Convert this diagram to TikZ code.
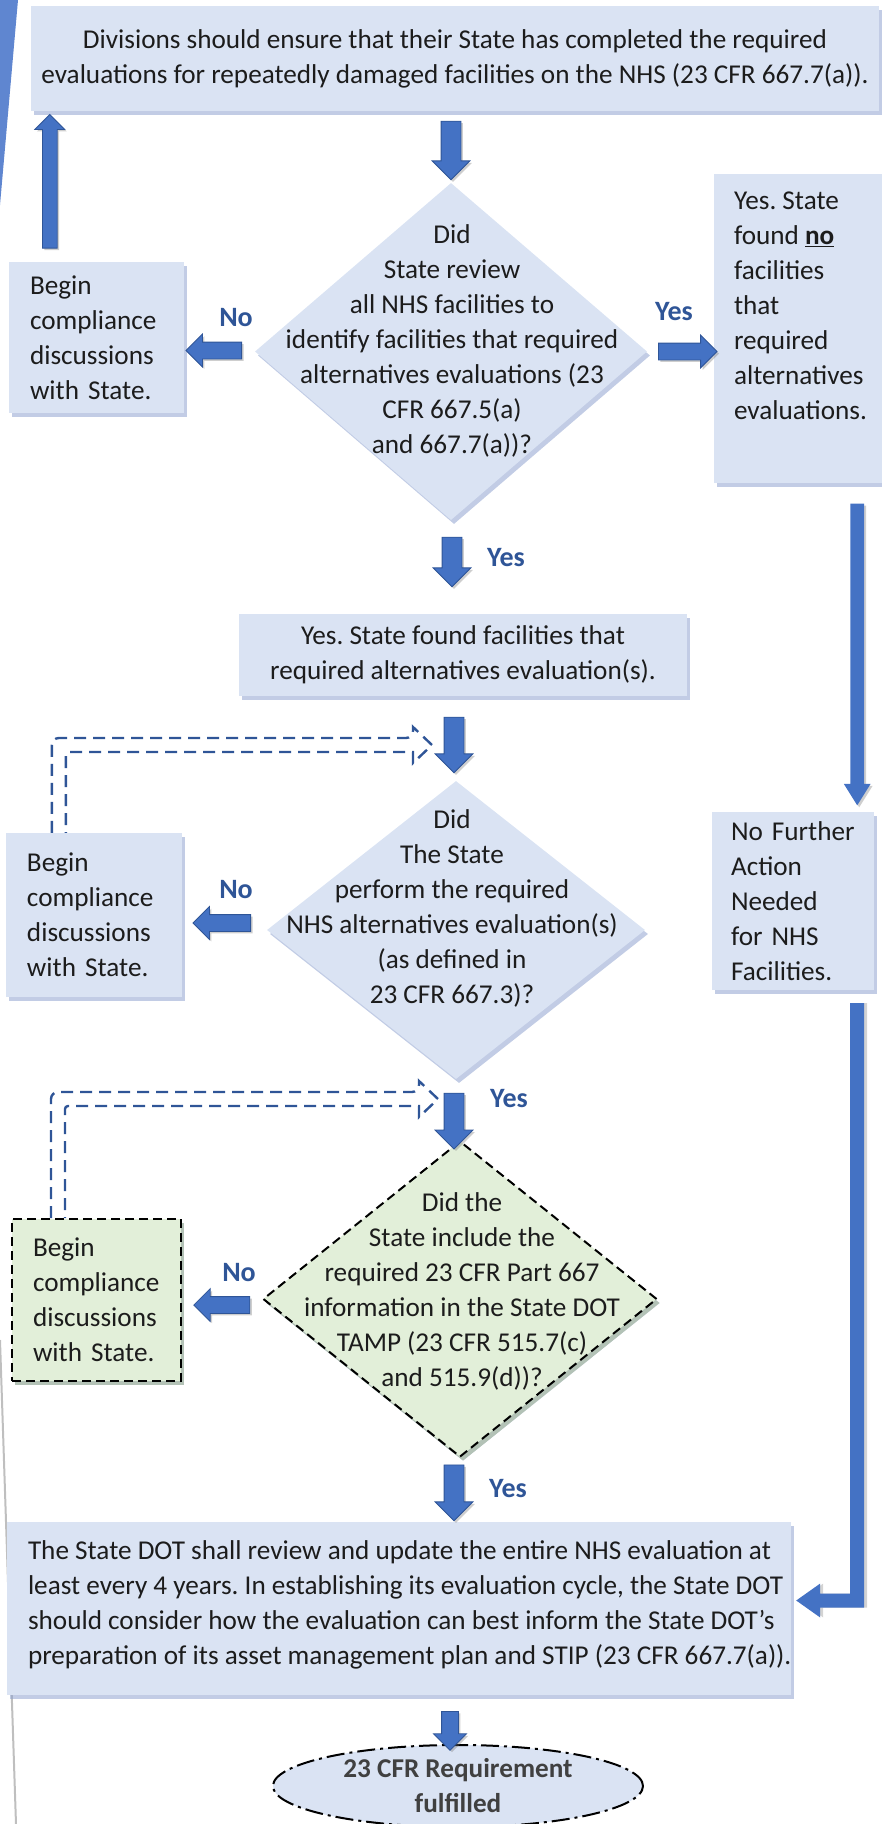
\documentclass[tikz,border=0pt]{standalone}
\usepackage{fontspec}
\setmainfont{Carlito}
\usepackage{tikz}
\usetikzlibrary{calc}
\usetikzlibrary{shapes.geometric}
\usetikzlibrary{shapes.arrows}
\usetikzlibrary{shadows}
\frenchspacing
\definecolor{boxblue}{HTML}{DAE3F3}
\definecolor{boxgreen}{HTML}{E2EFD9}
\definecolor{arrowblue}{HTML}{4472C4}
\definecolor{arrowedge}{HTML}{2F5597}
\definecolor{labelblue}{HTML}{2F5597}
\definecolor{shadowblue}{HTML}{8FA3CF}
\definecolor{shadowgreen}{HTML}{A9BC98}
\definecolor{stripeblue}{HTML}{5F86D0}
\definecolor{inkgrey}{HTML}{1C1C1C}
\newcommand{\bodyfont}{\fontsize{27.2}{35}\selectfont}
\newcommand{\flowarrow}[4][]{\path let \p1=(#2), \p2=(#3), \n1={veclen(\x2-\x1,\y2-\y1)} in node[barrow,#1,minimum height=\n1,rotate=#4] at ($(#2)!0.5!(#3)$) {};}
\newcommand{\backarrow}[2]{\draw[retarrow] let \p1=(#1), \p2=(#2) in (\x1-7pt,\y1) [rounded corners=7pt] -- (\x1-7pt,\y2+7pt) -- (\x2-19pt,\y2+7pt) [sharp corners] -- (\x2-19pt,\y2+18pt) -- (\p2) -- (\x2-19pt,\y2-18pt) -- (\x2-19pt,\y2-7pt) [rounded corners=3pt] -- (\x1+7pt,\y2-7pt) -- (\x1+7pt,\y1);}
\tikzset{
  procbox/.style={rectangle, fill=boxblue, inner sep=0pt, drop shadow={shadow xshift=3pt, shadow yshift=-4pt, fill=shadowblue, opacity=0.55}},
  greenline/.style={fill=boxgreen, draw=black, line width=2pt, dash pattern=on 9pt off 5pt, drop shadow={shadow xshift=3pt, shadow yshift=-4pt, fill=shadowgreen, opacity=0.6}},
  qdiamond/.style={diamond, fill=boxblue, inner sep=0pt, drop shadow={shadow xshift=3pt, shadow yshift=-4pt, fill=shadowblue, opacity=0.55}},
  qtext/.style={align=center, inner sep=0pt},
  boxtext/.style={align=left, inner sep=0pt},
  lbl/.style={font=\fontsize{28}{34}\selectfont\bfseries, text=labelblue, inner sep=0pt},
  barrow/.style={single arrow, fill=arrowblue, draw=arrowedge, line width=0.8pt, inner xsep=0pt, inner ysep=9.5pt, single arrow head extend=9pt, single arrow tip angle=90, drop shadow={shadow xshift=2pt, shadow yshift=-2pt, fill=black!55, opacity=0.35}},
  sidearrow/.style={inner ysep=8pt, single arrow head extend=8pt},
  thinarrow/.style={inner ysep=6.5pt, single arrow head extend=6.5pt, single arrow tip angle=64},
  retarrow/.style={draw=arrowedge, line width=2.4pt, dash pattern=on 12pt off 7pt},
  endoval/.style={ellipse, fill=boxblue, draw=black, line width=2pt, dash pattern=on 18pt off 5pt on 3pt off 5pt, minimum width=370, minimum height=82, inner sep=0pt, align=center, font=\bodyfont\bfseries, text=black!75}
}
\begin{document}
\begin{tikzpicture}[x=1pt, y=-1pt, font=\bodyfont, text=inkgrey]
\useasboundingbox (0,0) rectangle (882,1824);
% page edge
\fill[stripeblue] (0,0) -- (18,0) -- (0,205) -- cycle;
\draw[black!25, line width=2pt] (0,1340) -- (16,1824);
% top box
\node[procbox, minimum width=848, minimum height=105, align=center] (tb) at (455,58.5) {Divisions should ensure that their State has completed the required\\evaluations for repeatedly damaged facilities on the NHS (23 CFR 667.7(a)).};
% first question
\node[qdiamond, minimum width=392, minimum height=337] (d1) at (451,351.5) {};
\node[qtext] (d1t) at (452,341) {Did\\State review\\all NHS facilities to\\identify facilities that required\\alternatives evaluations (23\\CFR 667.5(a)\\and 667.7(a))?};
\node[procbox, minimum width=175, minimum height=151, text width=133, inner xsep=21, align=left] (lb1) at (96.5,337.5) {Begin\\compliance\\discussions\\with State.};
\node[procbox, minimum width=168, minimum height=309] (rb1) at (798,328.5) {};
\node[boxtext, anchor=north west] (rb1t) at ($(rb1.north west)+(20,18)$) {Yes. State\\found \underline{\textbf{no}}\\facilities\\that\\required\\alternatives\\evaluations.};
\node[procbox, minimum width=448, minimum height=82, align=center] (yb) at (463,655) {Yes. State found facilities that\\required alternatives evaluation(s).};
% second question
\node[qdiamond, minimum width=378, minimum height=298] (d2) at (456,930) {};
\node[qtext] (d2t) at (452,908) {Did\\The State\\perform the required\\NHS alternatives evaluation(s)\\(as defined in\\23 CFR 667.3)?};
\node[procbox, minimum width=176, minimum height=164, text width=134, inner xsep=21, align=left] (lb2) at (94,915) {Begin\\compliance\\discussions\\with State.};
\node[procbox, minimum width=162, minimum height=178, text width=124, inner xsep=19, align=left] (nf) at (793,901) {No Further\\Action\\Needed\\for NHS\\Facilities.};
% third question
\node[qdiamond, greenline, minimum width=394, minimum height=316] (d3) at (460,1299) {};
\node[qtext] (d3t) at (462,1291) {Did the\\State include the\\required 23 CFR Part 667\\information in the State DOT\\TAMP (23 CFR 515.7(c)\\and 515.9(d))?};
\node[procbox, greenline, minimum width=169, minimum height=162, text width=127, inner xsep=21, align=left] (lb3) at (96.5,1300) {Begin\\compliance\\discussions\\with State.};
% end of the chart
\node[procbox, minimum width=784, minimum height=173] (bb) at (399,1608.5) {};
\node[boxtext, anchor=west] (bbt) at ($(bb.west)+(21,-4)$) {The State DOT shall review and update the entire NHS evaluation at\\least every 4 years. In establishing its evaluation cycle, the State DOT\\should consider how the evaluation can best inform the State DOT's\\preparation of its asset management plan and STIP (23 CFR 667.7(a)).};
\node[endoval] (el) at (458,1786) {23 CFR Requirement\\fulfilled};
% arrow ends
\coordinate (a1s) at ($(tb.south -| d1.north)+(0,5)$);
\coordinate (a1e) at ($(d1.north)+(0,-8)$);
\coordinate (a2s) at ($(lb1.north west)+(41,-10)$);
\coordinate (a2e) at ($(a2s |- tb.south)+(0,7)$);
\coordinate (a3s) at ($(d1.west)+(-9,-1)$);
\coordinate (a3e) at ($(lb1.east |- a3s)+(6,0)$);
\coordinate (a4s) at ($(d1.east)+(7,0)$);
\coordinate (a4e) at ($(rb1.west |- a4s)+(-1,0)$);
\coordinate (a5s) at ($(d1.south)+(1,12)$);
\coordinate (a5e) at ($(a5s |- yb.north)+(0,-32)$);
\coordinate (a6s) at ($(yb.south -| d2.north)+(-2,16)$);
\coordinate (a6e) at ($(d2.north)+(-2,-13)$);
\coordinate (a7s) at ($(d2.west)+(-12,-7)$);
\coordinate (a7e) at ($(lb2.east |- a7s)+(15,0)$);
\coordinate (a8s) at ($(d2.south)+(-2,9)$);
\coordinate (a8e) at ($(a8s |- d3.north)+(0,4)$);
\coordinate (a9s) at ($(d3.west)+(-8,6)$);
\coordinate (a9e) at ($(lb3.east |- a9s)+(16,0)$);
\coordinate (a10s) at ($(a8s |- d3.south)+(0,2)$);
\coordinate (a10e) at ($(a8s |- bb.north)+(0,-6)$);
\coordinate (a11s) at ($(bb.south -| el.north)+(-8,12)$);
\coordinate (a11e) at ($(el.north)+(-8,2)$);
\coordinate (r1s) at ($(rb1.south east)+(-25,15)$);
\coordinate (r1e) at ($(nf.north east)+(-17,-12)$);
\coordinate (e1) at ($(nf.south east)+(-17,13)$);
\coordinate (e2) at ($(bb.east)+(5,-8)$);
\coordinate (b2s) at ($(lb2.north west)+(53,0)$);
\coordinate (b2t) at (432,745);
\coordinate (b3s) at ($(lb3.north west)+(47,0)$);
\coordinate (b3t) at (438,1099);
% block arrows
\flowarrow{a1s}{a1e}{-90}
\flowarrow[thinarrow,inner ysep=7pt,single arrow head extend=7.5pt,single arrow tip angle=90]{a2s}{a2e}{90}
\flowarrow[sidearrow]{a3s}{a3e}{180}
\flowarrow[sidearrow]{a4s}{a4e}{0}
\flowarrow{a5s}{a5e}{-90}
\flowarrow{a6s}{a6e}{-90}
\flowarrow[sidearrow]{a7s}{a7e}{180}
\flowarrow{a8s}{a8e}{-90}
\flowarrow[sidearrow]{a9s}{a9e}{180}
\flowarrow{a10s}{a10e}{-90}
\flowarrow[sidearrow]{a11s}{a11e}{-90}
\flowarrow[thinarrow,draw=none]{r1s}{r1e}{-90}
% elbow into the last box
\fill[arrowblue, drop shadow={shadow xshift=3pt, shadow yshift=0pt, fill=black!50, opacity=0.35}] let \p1=(e1), \p2=(e2) in (\x1-7pt,\y1) -- (\x1+7pt,\y1) -- (\x1+7pt,\y2-7pt) -- (\x2+24pt,\y2-7pt) -- (\x2+24pt,\y2-17pt) -- (\p2) -- (\x2+24pt,\y2+17pt) -- (\x2+24pt,\y2+7pt) -- (\x1-7pt,\y2+7pt) -- cycle;
% dashed returns
\backarrow{b2s}{b2t}
\backarrow{b3s}{b3t}
% yes and no
\node[lbl] (no1) at (236,318) {No};
\node[lbl] (yes1) at (674,312) {Yes};
\node[lbl] (yes2) at (506,558) {Yes};
\node[lbl] (no2) at (236,890) {No};
\node[lbl] (yes3) at (509,1099) {Yes};
\node[lbl] (no3) at (239,1273) {No};
\node[lbl] (yes4) at (508,1489) {Yes};
\end{tikzpicture}
\end{document}
